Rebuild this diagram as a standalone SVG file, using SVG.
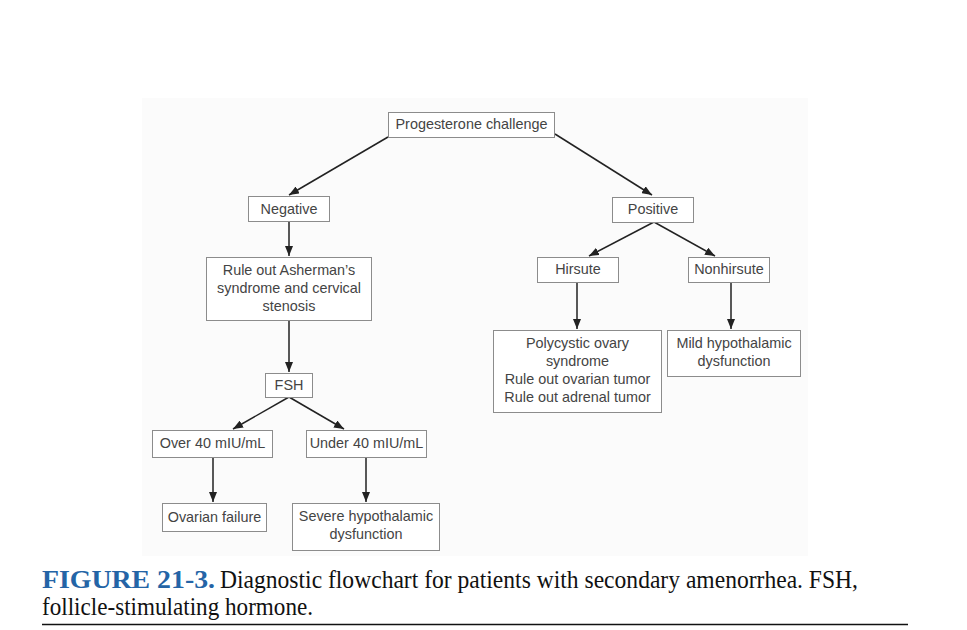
<svg xmlns="http://www.w3.org/2000/svg" width="967" height="630" viewBox="0 0 967 630">
<style>
.box{fill:#ffffff;stroke:#8c8c8c;stroke-width:1}
.t{font-family:"Liberation Sans",Arial,sans-serif;font-size:14.4px;fill:#444444;text-anchor:middle}
.c{stroke:#222;stroke-width:1.5;fill:none;marker-end:url(#ah)}
.cap{font-family:"Liberation Serif","Times New Roman",serif;font-size:25px;fill:#111}
.capb{font-weight:bold;fill:#2464a6}
</style>
<defs>
<marker id="ah" viewBox="0 0 10 8" refX="10" refY="4" markerWidth="10" markerHeight="8" markerUnits="userSpaceOnUse" orient="auto">
<path d="M0,0 L10,4 L0,8 z" fill="#222"/>
</marker>
</defs>
<rect x="0" y="0" width="967" height="630" fill="#ffffff"/>
<rect x="142" y="98" width="666" height="458" fill="#fbfbfb"/>
<g id="connectors">
<line class="c" x1="388" y1="137" x2="289" y2="195"/>
<line class="c" x1="555" y1="134" x2="652" y2="195"/>
<line class="c" x1="289" y1="222" x2="289" y2="256"/>
<line class="c" x1="289" y1="320" x2="289" y2="372"/>
<line class="c" x1="289" y1="397" x2="233" y2="429"/>
<line class="c" x1="289" y1="397" x2="344" y2="429"/>
<line class="c" x1="213" y1="457" x2="213" y2="502"/>
<line class="c" x1="366" y1="457" x2="366" y2="502"/>
<line class="c" x1="654" y1="222" x2="589" y2="256"/>
<line class="c" x1="654" y1="222" x2="715" y2="256"/>
<line class="c" x1="577" y1="282" x2="577" y2="329"/>
<line class="c" x1="731" y1="282" x2="731" y2="329"/>
</g>
<g id="progesterone"><rect class="box" x="388.5" y="112.5" width="166" height="25"/><text class="t" x="471.5" y="129">Progesterone challenge</text></g>
<g id="negative"><rect class="box" x="248.5" y="196.5" width="81" height="25"/><text class="t" x="289" y="213.5">Negative</text></g>
<g id="positive"><rect class="box" x="612.5" y="197.5" width="81" height="25"/><text class="t" x="653" y="214">Positive</text></g>
<g id="asherman"><rect class="box" x="206.5" y="257.5" width="165" height="63"/><text class="t" x="289" y="274.5">Rule out Asherman’s</text><text class="t" x="289" y="292.5">syndrome and cervical</text><text class="t" x="289" y="310.5">stenosis</text></g>
<g id="fsh"><rect class="box" x="265.5" y="373.5" width="47" height="24"/><text class="t" x="289" y="389.5">FSH</text></g>
<g id="over40"><rect class="box" x="152.5" y="430.5" width="120" height="27"/><text class="t" x="212.5" y="448">Over 40 mIU/mL</text></g>
<g id="under40"><rect class="box" x="306.5" y="430.5" width="120" height="27"/><text class="t" x="366.5" y="448">Under 40 mIU/mL</text></g>
<g id="ovarianfailure"><rect class="box" x="162.5" y="503.5" width="104" height="28"/><text class="t" x="214.5" y="522">Ovarian failure</text></g>
<g id="severe"><rect class="box" x="292.5" y="503.5" width="147" height="47"/><text class="t" x="366" y="520.5">Severe hypothalamic</text><text class="t" x="366" y="538.5">dysfunction</text></g>
<g id="hirsute"><rect class="box" x="537.5" y="257.5" width="81" height="25"/><text class="t" x="578" y="274">Hirsute</text></g>
<g id="nonhirsute"><rect class="box" x="688.5" y="257.5" width="81" height="25"/><text class="t" x="729" y="274">Nonhirsute</text></g>
<g id="pcos"><rect class="box" x="493.5" y="330.5" width="168" height="82"/><text class="t" x="577.5" y="347.5">Polycystic ovary</text><text class="t" x="577.5" y="365.5">syndrome</text><text class="t" x="577.5" y="383.5">Rule out ovarian tumor</text><text class="t" x="577.5" y="401.5">Rule out adrenal tumor</text></g>
<g id="mild"><rect class="box" x="667.5" y="330.5" width="133" height="46"/><text class="t" x="734" y="347.5">Mild hypothalamic</text><text class="t" x="734" y="365.5">dysfunction</text></g>
<g id="caption">
<text class="cap" x="42" y="588"><tspan class="capb" textLength="173" lengthAdjust="spacingAndGlyphs">FIGURE 21-3.</tspan><tspan x="220" y="588" textLength="638" lengthAdjust="spacingAndGlyphs">Diagnostic flowchart for patients with secondary amenorrhea. FSH,</tspan></text>
<text class="cap" x="42" y="615" textLength="271" lengthAdjust="spacingAndGlyphs">follicle-stimulating hormone.</text>
<line x1="42" y1="624.5" x2="908" y2="624.5" stroke="#111" stroke-width="1.5"/>
</g>
</svg>
